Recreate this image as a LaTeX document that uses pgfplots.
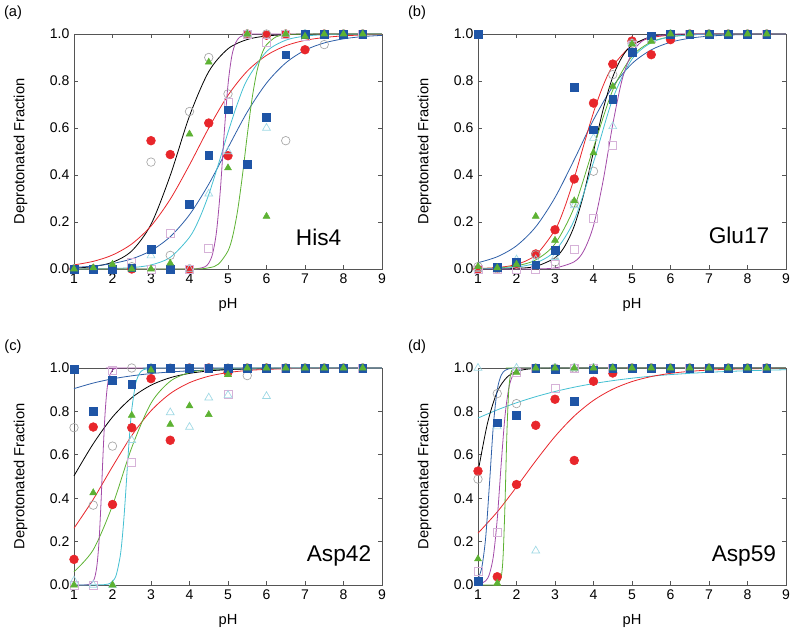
\documentclass[border=0pt]{standalone}
\usepackage{fontspec}
\setmainfont{Liberation Sans}
\usepackage{pgfplots}
\usepackage{pgfplotstable}
\pgfplotsset{compat=1.18}

\definecolor{cgray}{HTML}{A6A6A6}
\definecolor{cred}{HTML}{E8262B}
\definecolor{cgreen}{HTML}{5DB233}
\definecolor{ccyanm}{HTML}{9ED8E4}
\definecolor{ccyan}{HTML}{45C0D2}
\definecolor{cblue}{HTML}{1F55A6}
\definecolor{cbluel}{HTML}{2E5FA8}
\definecolor{cpurplem}{HTML}{D6B2D8}
\definecolor{cpurple}{HTML}{A34BA8}
\definecolor{caxis}{HTML}{555555}

% columns: pH, gray circle, red circle, green triangle, cyan triangle, blue square, purple square
\pgfplotstableread{
x g r gr c b p
1 0 0 0 0 0 0
1.5 0 0 0.005 0 0 0
2 0 0 0.02 0 0 0
2.5 0.01 0 0 0 0.005 0.03
3 0.455 0.546 0 0.057 0.085 0
3.5 0.058 0.487 0.025 0.01 0 0.153
4 0.67 0 0.574 0 0.274 0
4.5 0.90 0.621 0.88 0.32 0.485 0.09
5 0.745 0.482 0.43 0.5 0.678 0.71
5.5 1 1 1 1 0.447 1
6 1 0.995 0.224 0.60 0.645 0.965
6.5 0.546 1 1 1 0.912 1
7 1 0.933 0.99 1 1 0.99
7.5 0.955 1 1 1 1 1
8 1 1 1 1 1 1
8.5 1 1 1 1 1 1
}\tabA

\pgfplotstableread{
x g r gr c b p
1 0.01 0 0.01 0 1 0
1.5 0 0.005 0.005 0 0.007 0
2 0.02 0.02 0.02 0.04 0.028 0
2.5 0.06 0.064 0.224 0.04 0.018 0
3 0.03 0.167 0.122 0.05 0.079 0.02
3.5 0.28 0.383 0.29 0.27 0.774 0.085
4 0.416 0.706 0.494 0.557 0.593 0.214
4.5 0.827 0.872 0.777 0.607 0.723 0.526
5 0.96 0.97 0.957 0.96 0.923 0.95
5.5 0.98 0.912 0.969 0.98 0.993 0.98
6 1 0.976 1 1 1 1
6.5 1 1 1 1 1 1
7 1 1 1 1 1 1
7.5 1 1 1 1 1 1
8 1 1 1 1 1 1
8.5 1 1 1 1 1 1
}\tabB

\pgfplotstableread{
x g r gr c b p
1 0.725 0.118 0 0.02 0.994 0
1.5 0.368 0.728 0.425 0 0.80 0
2 0.64 0.371 0 0 0.943 0.99
2.5 1 0.725 0.782 0.667 0.925 0.563
3 1 0.951 0.99 1 1 1
3.5 1 0.667 0.74 0.795 1 1
4 1 1 0.825 0.728 1 1
4.5 1 1 0.785 0.863 1 1
5 1 0.98 0.97 0.875 1 0.877
5.5 0.965 1 1 1 1 1
6 1 1 1 0.87 1 1
6.5 1 1 1 1 1 1
7 1 1 1 1 1 1
7.5 1 1 1 1 1 1
8 1 1 1 1 1 1
8.5 1 1 1 1 1 1
}\tabC

\pgfplotstableread{
x g r gr c b p
1 0.488 0.525 0.12 1 0.018 0.061
1.5 0.882 0.038 0.008 0.73 0.748 0.245
2 0.836 0.463 0.98 1 0.782 0.98
2.5 1 0.736 1 0.158 1 1
3 1 0.856 1 1 0.995 0.908
3.5 1 0.574 1 1 0.847 1
4 1 0.939 1 1 0.992 1
4.5 1 0.977 1 1 1 1
5 1 1 1 1 1 1
5.5 1 1 1 1 1 1
6 1 1 1 1 1 1
6.5 1 1 1 1 1 1
7 1 1 1 1 1 1
7.5 1 1 1 1 1 1
8 1 1 1 1 1 1
8.5 1 1 1 1 1 1
}\tabD

\tikzset{reslbl/.style={anchor=base east, font=\fontsize{17}{20}\selectfont}}

\pgfplotsset{
  panel/.style={
    scale only axis, width=231pt,
    xmin=1, xmax=9, ymin=0, ymax=1,
    xtick={1,2,3,4,5,6,7,8,9},
    ytick={0,0.2,0.4,0.6,0.8,1},
    /pgf/number format/assume math mode=true,
    yticklabel style={/pgf/number format/.cd, fixed, fixed zerofill, precision=1},
    tick label style={font=\fontsize{10.5}{12}\selectfont, black},
    label style={font=\fontsize{11}{13}\selectfont},
    xlabel={pH}, ylabel={Deprotonated Fraction},
    ylabel style={yshift=10pt},
    xlabel style={yshift=-4.5pt},
    axis line style={caxis, line width=0.7pt},
    tick style={caxis, line width=0.6pt},
    major tick length=3pt,
    clip=false, anchor=south west,
  },
  cv/.style={no markers, line width=0.6pt, smooth},
  gmk/.style={only marks, mark=o, cgray, mark size=3.2pt, mark options={line width=0.5pt}},
  rmk/.style={only marks, mark=*, cred, mark size=3.3pt},
  grmk/.style={only marks, mark=triangle*, cgreen, mark size=3.0pt},
  cmk/.style={only marks, mark=triangle, ccyanm, mark size=3.4pt, mark options={line width=0.5pt}},
  bmk/.style={only marks, mark=square*, cblue, mark size=2.9pt},
  pmk/.style={only marks, mark=square, cpurplem, mark size=3.0pt, mark options={line width=0.5pt}},
}

\newcommand{\drawmarks}[1]{%
  \addplot[rmk] table[x=x,y=r] {#1};
  \addplot[gmk] table[x=x,y=g] {#1};
  \addplot[pmk] table[x=x,y=p] {#1};
  \addplot[cmk] table[x=x,y=c] {#1};
  \addplot[bmk] table[x=x,y=b] {#1};
  \addplot[grmk] table[x=x,y=gr] {#1};
}

\begin{document}
\begin{tikzpicture}
\path[use as bounding box] (0,0) rectangle (600pt,477pt);

% ---------------- (a) His4
\begin{axis}[panel, height=176.25pt, at={(55.5pt,275.25pt)}]
\addplot[cv, black] coordinates {(1,0.0037)(1.5,0.0104)(2,0.0287)(2.5,0.0768)(3,0.190)(3.5,0.398)(4,0.651)(4.5,0.840)(5,0.937)(5.5,0.9766)(6,0.9916)(6.5,0.997)(7,0.999)(7.5,0.9996)(8,0.9999)(9,1)};
\addplot[cv, cred] coordinates {(1,0.0175)(1.5,0.0325)(2,0.0595)(2.5,0.1065)(3,0.183)(3.5,0.297)(4,0.443)(4.5,0.600)(5,0.739)(5.5,0.842)(6,0.909)(6.5,0.950)(7,0.973)(7.5,0.985)(8,0.9921)(8.5,0.9958)(9,0.9978)};
\addplot[cv, cbluel] coordinates {(1,0.0067)(1.5,0.0125)(2,0.0233)(2.5,0.0430)(3,0.078)(3.5,0.1375)(4,0.231)(4.5,0.361)(5,0.516)(5.5,0.668)(6,0.791)(6.5,0.877)(7,0.931)(7.5,0.962)(8,0.9794)(8.5,0.989)(9,0.9941)};
\addplot[cv, ccyan] coordinates {(1,0.0002)(1.5,0.0007)(2,0.0019)(2.5,0.0059)(3,0.0172)(3.5,0.0495)(4,0.135)(4.25,0.212)(4.5,0.317)(4.75,0.4454)(5,0.581)(5.25,0.7058)(5.5,0.806)(6,0.925)(6.5,0.9736)(7,0.991)(7.5,0.997)(8,0.999)(8.5,0.9997)(9,1)};
\addplot[cv, cpurple] coordinates {(1,0)(4,0.0002)(4.2,0.0013)(4.4,0.0094)(4.5,0.025)(4.6,0.0646)(4.7,0.157)(4.8,0.333)(4.9,0.574)(5.0,0.784)(5.1,0.907)(5.2,0.963)(5.3,0.986)(5.4,0.9948)(5.6,0.9993)(6,1)(9,1)};
\addplot[cv, cgreen] coordinates {(1,0)(4,0.0003)(4.5,0.0052)(4.75,0.0205)(5,0.0768)(5.125,0.142)(5.25,0.249)(5.375,0.398)(5.5,0.569)(5.625,0.7245)(5.75,0.840)(5.875,0.913)(6,0.954)(6.25,0.988)(6.5,0.997)(7,0.9998)(9,1)};
\drawmarks{\tabA}
\node[reslbl] at (rel axis cs:0.883,0.10) {His4};
\end{axis}

% ---------------- (b) Glu17
\begin{axis}[panel, height=176.25pt, at={(358.5pt,275.25pt)}]
\addplot[cv, cbluel] coordinates {(1,0.0268)(1.5,0.0521)(2,0.0988)(2.5,0.1795)(3,0.304)(3.5,0.4655)(4,0.635)(4.5,0.776)(5,0.874)(5.5,0.9325)(6,0.965)(6.5,0.982)(7,0.991)(7.5,0.9955)(8,0.9977)(8.5,0.9989)(9,0.9994)};
\addplot[cv, cred] coordinates {(1,0.002)(1.5,0.0063)(2,0.0196)(2.5,0.0594)(3,0.1663)(3.25,0.262)(3.5,0.387)(3.75,0.529)(4,0.666)(4.25,0.780)(4.5,0.863)(5,0.952)(5.5,0.984)(6,0.995)(6.5,0.9984)(7,0.9995)(8,1)(9,1)};
\addplot[cv, black] coordinates {(1,0.0001)(1.5,0.0006)(2,0.0025)(2.5,0.0111)(3,0.0477)(3.25,0.0958)(3.5,0.183)(3.75,0.321)(4,0.5)(4.25,0.679)(4.5,0.817)(4.75,0.9042)(5,0.952)(5.5,0.9889)(6,0.9975)(6.5,0.9994)(7,1)(9,1)};
\addplot[cv, cgreen] coordinates {(1,0.0015)(1.5,0.0045)(2,0.0133)(2.5,0.0386)(3,0.107)(3.5,0.263)(4,0.5165)(4.5,0.761)(5,0.905)(5.5,0.966)(6,0.988)(6.5,0.996)(7,0.9987)(8,1)(9,1)};
\addplot[cv, ccyan] coordinates {(1,0.0008)(1.5,0.0026)(2,0.0082)(2.5,0.0256)(3,0.0768)(3.5,0.208)(4,0.454)(4.5,0.7245)(5,0.893)(5.5,0.963)(6,0.988)(6.5,0.9962)(7,0.9988)(8,1)(9,1)};
\addplot[cv, cpurple] coordinates {(1,0)(2,0.0001)(2.5,0.0006)(3,0.0045)(3.5,0.031)(3.75,0.0783)(4,0.184)(4.25,0.3755)(4.5,0.615)(4.75,0.81)(5,0.919)(5.25,0.968)(5.5,0.9877)(6,0.9982)(6.5,0.9998)(7,1)(9,1)};
\drawmarks{\tabB}
\node[reslbl] at (rel axis cs:0.961,0.11) {Glu17};
\end{axis}

% ---------------- (c) Asp42
\begin{axis}[panel, height=162.75pt, at={(55.5pt,38.25pt)}]
\addplot[cv, cbluel] coordinates {(1,0.905)(1.5,0.9307)(2,0.95)(2.5,0.964)(3,0.9743)(3.5,0.9816)(4,0.9869)(5,0.9934)(6,0.9967)(7,0.9983)(8,0.9992)(9,0.9996)};
\addplot[cv, black] coordinates {(1,0.503)(1.5,0.651)(2,0.774)(2.5,0.863)(3,0.9208)(3.5,0.9554)(4,0.9752)(4.5,0.9864)(5,0.9926)(5.5,0.9959)(6,0.9978)(7,0.9993)(8,0.9998)(9,0.9999)};
\addplot[cv, cred] coordinates {(1,0.2616)(1.5,0.3948)(2,0.5457)(2.5,0.6886)(3,0.8028)(3.5,0.8822)(4,0.9324)(4.5,0.9621)(5,0.979)(5.5,0.9885)(6,0.9937)(6.5,0.9966)(7,0.9981)(8,0.9995)(9,0.9999)};
\addplot[cv, cgreen] coordinates {(1,0.061)(1.5,0.1623)(2,0.3666)(2.5,0.6334)(3,0.8377)(3.5,0.939)(4,0.9787)(4.5,0.9928)(5,0.9976)(5.5,0.9992)(6,0.9997)(7,1)(9,1)};
\addplot[cv, cpurple] coordinates {(1,0)(1.3,0.0006)(1.4,0.0033)(1.5,0.0185)(1.55,0.0427)(1.6,0.0958)(1.65,0.2008)(1.7,0.3733)(1.75,0.5855)(1.8,0.770)(1.85,0.888)(1.9,0.9496)(2.0,0.9906)(2.1,0.9983)(2.3,1)(9,1)};
\addplot[cv, ccyan] coordinates {(1,0)(1.8,0.0018)(2.0,0.0165)(2.1,0.048)(2.2,0.1325)(2.25,0.21)(2.3,0.3156)(2.35,0.445)(2.4,0.582)(2.45,0.7077)(2.5,0.808)(2.6,0.927)(2.7,0.9746)(2.8,0.9914)(3.0,0.999)(3.2,1)(9,1)};
\drawmarks{\tabC}
\node[reslbl] at (rel axis cs:0.98,0.107) {Asp42};
\end{axis}

% ---------------- (d) Asp59
\begin{axis}[panel, height=162.75pt, at={(358.5pt,38.25pt)}]
\addplot[cv, ccyan] coordinates {(1,0.7694)(1.5,0.807)(2,0.8397)(2.5,0.8678)(3,0.8917)(3.5,0.9116)(4,0.9282)(4.5,0.9418)(5,0.953)(5.5,0.9622)(6,0.9696)(7,0.9804)(8,0.9874)(9,0.992)};
\addplot[cv, cred] coordinates {(1,0.2387)(1.5,0.3369)(2,0.4518)(2.5,0.5721)(3,0.6844)(3.5,0.7786)(4,0.8508)(4.5,0.9024)(5,0.9375)(5.5,0.9605)(6,0.9753)(6.5,0.9846)(7,0.9905)(7.5,0.9941)(8,0.99635)(8.5,0.99775)(9,0.9986)};
\addplot[cv, black] coordinates {(1,0.520)(1.25,0.748)(1.5,0.8905)(1.75,0.957)(2,0.9839)(2.25,0.994)(2.5,0.9978)(3,0.9997)(3.5,1)(9,1)};
\addplot[cv, cbluel] coordinates {(1,0.0274)(1.1,0.0819)(1.2,0.2199)(1.3,0.4713)(1.4,0.738)(1.5,0.899)(1.6,0.9657)(1.7,0.9889)(1.8,0.99646)(2,0.9996)(2.5,1)(9,1)};
\addplot[cv, cpurple] coordinates {(1,0.00245)(1.2,0.0191)(1.3,0.0521)(1.4,0.1341)(1.5,0.3039)(1.6,0.5517)(1.7,0.7762)(1.8,0.9072)(1.9,0.965)(2.0,0.9873)(2.2,0.9984)(2.5,1)(9,1)};
\addplot[cv, cgreen] coordinates {(1,0)(1.4,0.0001)(1.5,0.0023)(1.6,0.0351)(1.65,0.1263)(1.7,0.3652)(1.75,0.6961)(1.8,0.9012)(1.85,0.9732)(1.9,0.9931)(2.0,0.9996)(2.2,1)(9,1)};
\drawmarks{\tabD}
\node[reslbl] at (rel axis cs:0.983,0.11) {Asp59};
\end{axis}

\node[font=\fontsize{11}{13}\selectfont] at (9.75pt,467.25pt) {(a)};
\node[font=\fontsize{11}{13}\selectfont] at (312.75pt,467.25pt) {(b)};
\node[font=\fontsize{11}{13}\selectfont] at (9.75pt,216.75pt) {(c)};
\node[font=\fontsize{11}{13}\selectfont] at (312.75pt,216.75pt) {(d)};
\end{tikzpicture}
\end{document}
